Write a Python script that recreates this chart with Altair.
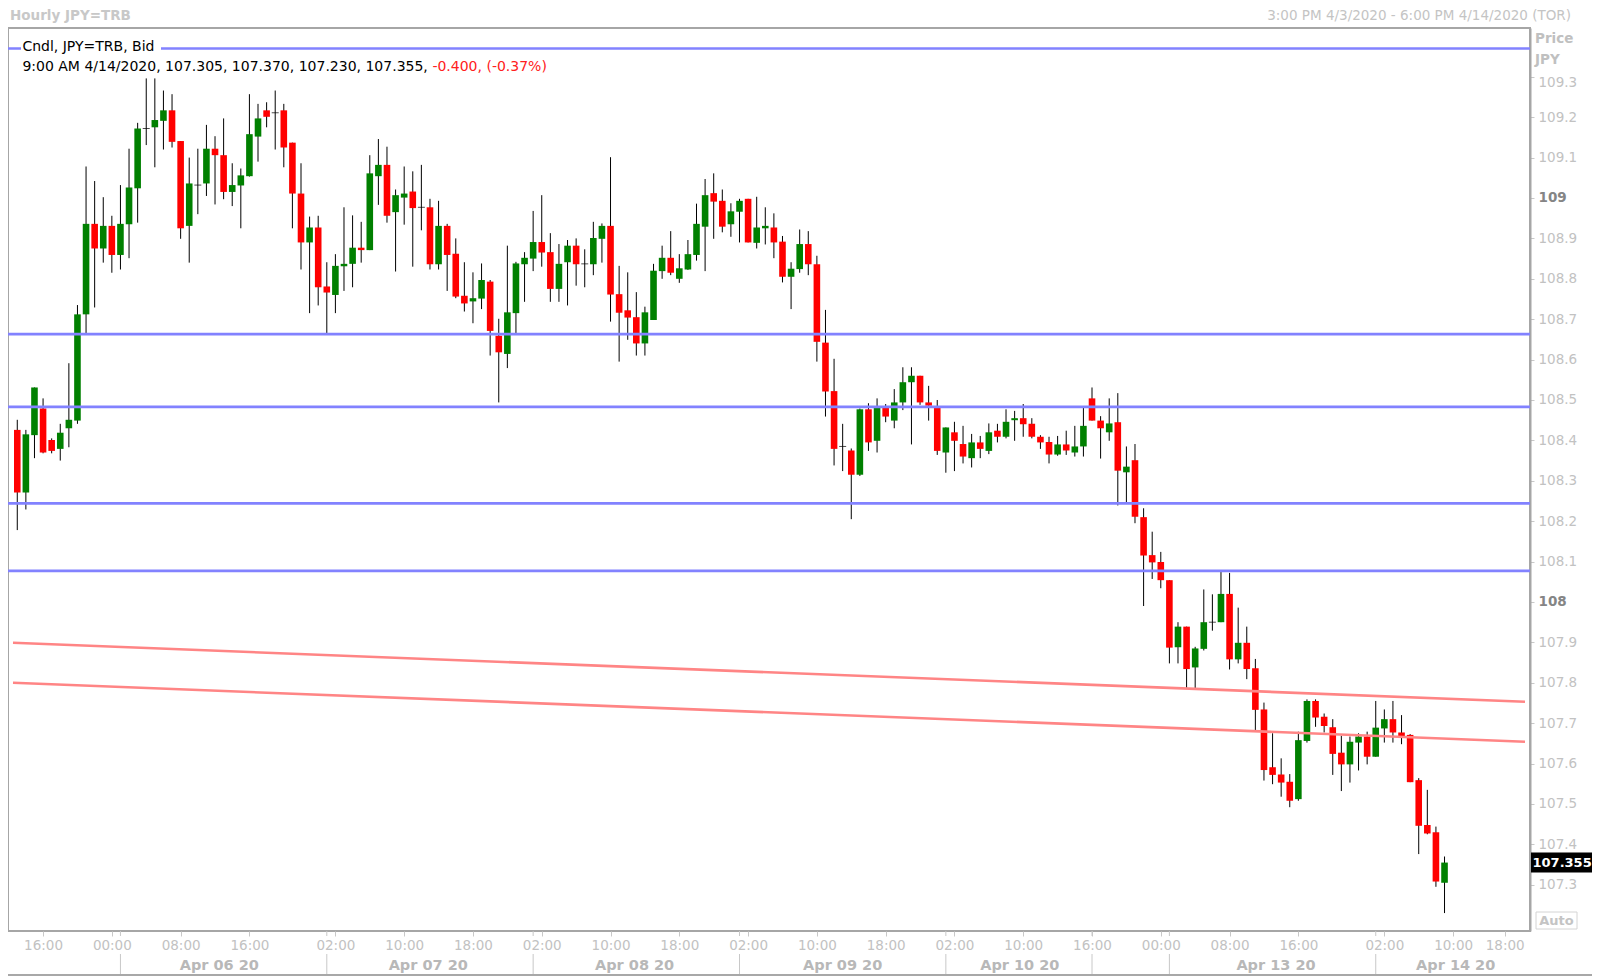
import altair as alt
import pandas as pd

# ---------------- data ----------------
opens = [108.426,108.271,108.413,108.479,108.401,108.379,108.430,108.449,108.712,108.936,
         108.875,108.931,108.859,108.935,109.024,109.172,109.175,109.191,109.217,109.141,
         108.931,109.032,109.036,109.122,109.106,109.015,109.031,109.054,109.152,109.217,
         109.211,109.217,109.137,109.011,108.890,108.927,108.781,108.760,108.831,108.837,
         108.877,108.871,109.054,109.082,108.965,109.001,109.016,108.977,108.977,108.836,
         108.931,108.862,108.758,108.744,108.751,108.793,108.659,108.614,108.715,108.836,
         108.850,108.891,108.866,108.775,108.841,108.882,108.837,108.836,108.899,108.931,
         108.762,108.722,108.705,108.640,108.698,108.819,108.852,108.800,108.823,108.859,
         108.929,109.012,108.993,108.935,108.966,108.998,108.889,108.925,108.927,108.892,
         108.805,108.824,108.886,108.836,108.642,108.522,108.385,108.375,108.315,108.477,
         108.399,108.482,108.449,108.494,108.544,108.560,108.494,108.484,108.370,108.420,
         108.391,108.356,108.395,108.374,108.424,108.409,108.450,108.455,108.441,108.409,
         108.396,108.365,108.390,108.370,108.385,108.504,108.449,108.420,108.445,108.321,
         108.351,108.210,108.116,108.099,108.054,107.888,107.939,107.838,107.884,107.950,
         107.950,108.020,107.858,107.899,107.836,107.734,107.591,107.573,107.555,107.512,
         107.656,107.755,107.716,107.690,107.627,107.598,107.652,107.667,107.617,107.687,
         107.710,107.677,107.671,107.559,107.448,107.430,107.305]
highs = [108.451,108.426,108.531,108.504,108.405,108.441,108.591,108.735,109.078,109.042,
         109.002,108.956,109.032,109.122,109.186,109.296,109.296,109.266,109.257,109.141,
         109.100,109.122,109.181,109.153,109.197,109.086,109.073,109.257,109.233,109.237,
         109.266,109.233,109.137,109.086,108.954,108.956,108.841,108.861,108.977,108.957,
         108.941,109.106,109.146,109.127,109.021,109.078,109.066,109.082,108.998,108.993,
         108.936,108.900,108.841,108.816,108.838,108.797,108.701,108.882,108.842,108.866,
         108.968,109.007,108.913,108.886,108.896,108.900,108.873,108.941,108.937,109.101,
         108.832,108.816,108.767,108.731,108.837,108.882,108.918,108.861,108.896,108.986,
         109.047,109.061,109.021,108.987,108.998,108.998,109.003,108.977,108.962,108.906,
         108.841,108.922,108.918,108.857,108.723,108.602,108.441,108.380,108.479,108.492,
         108.504,108.490,108.527,108.581,108.581,108.560,108.535,108.500,108.432,108.446,
         108.436,108.416,108.411,108.442,108.441,108.477,108.473,108.490,108.455,108.413,
         108.409,108.411,108.424,108.436,108.481,108.531,108.460,108.504,108.517,108.385,
         108.391,108.232,108.174,108.124,108.054,107.950,107.939,107.889,108.031,108.019,
         108.075,108.072,107.986,107.939,107.859,107.751,107.675,107.613,107.574,107.679,
         107.759,107.759,107.724,107.710,107.669,107.667,107.675,107.679,107.755,107.734,
         107.755,107.720,107.673,107.564,107.535,107.444,107.370]
lows = [108.178,108.229,108.356,108.368,108.368,108.350,108.383,108.441,108.665,108.729,
        108.840,108.815,108.823,108.851,108.939,109.131,109.076,109.120,109.125,108.899,
        108.840,108.960,109.005,108.984,108.997,108.980,108.925,109.053,109.090,109.175,
        109.120,109.076,108.925,108.823,108.715,108.734,108.663,108.715,108.770,108.779,
        108.840,108.871,108.983,108.939,108.818,108.934,108.830,108.920,108.823,108.823,
        108.770,108.752,108.719,108.690,108.725,108.610,108.494,108.579,108.665,108.743,
        108.819,108.830,108.743,108.743,108.734,108.783,108.779,108.809,108.840,108.694,
        108.595,108.649,108.610,108.610,108.698,108.800,108.809,108.790,108.822,108.845,
        108.819,108.899,108.915,108.904,108.890,108.890,108.875,108.885,108.851,108.791,
        108.725,108.815,108.809,108.595,108.459,108.338,108.324,108.205,108.312,108.374,
        108.370,108.445,108.430,108.475,108.390,108.488,108.449,108.364,108.320,108.324,
        108.343,108.333,108.356,108.366,108.395,108.405,108.399,108.409,108.405,108.379,
        108.343,108.362,108.364,108.360,108.360,108.449,108.355,108.399,108.239,108.246,
        108.195,107.990,108.057,108.034,107.848,107.848,107.786,107.786,107.880,107.929,
        107.950,107.833,107.848,107.809,107.683,107.558,107.549,107.518,107.492,107.508,
        107.652,107.691,107.677,107.572,107.532,107.553,107.583,107.598,107.617,107.652,
        107.652,107.648,107.554,107.376,107.425,107.295,107.230]
closes = [108.271,108.415,108.531,108.370,108.374,108.419,108.451,108.712,108.936,108.875,
          108.931,108.859,108.936,109.026,109.172,109.172,109.193,109.217,109.139,108.925,
          109.036,109.032,109.122,109.106,109.015,109.032,109.056,109.158,109.197,109.201,
          109.211,109.125,109.011,108.890,108.927,108.779,108.766,108.832,108.837,108.877,
          108.871,109.061,109.082,108.956,109.007,109.011,108.975,108.977,108.836,108.931,
          108.859,108.756,108.739,108.752,108.797,108.671,108.618,108.717,108.838,108.852,
          108.891,108.865,108.775,108.837,108.882,108.836,108.837,108.901,108.931,108.761,
          108.716,108.704,108.640,108.717,108.820,108.852,108.815,108.826,108.861,108.936,
          109.007,108.991,108.929,108.967,108.993,108.890,108.927,108.931,108.890,108.805,
          108.825,108.886,108.836,108.644,108.521,108.379,108.385,108.315,108.477,108.395,
          108.482,108.459,108.494,108.544,108.560,108.494,108.486,108.374,108.432,108.399,
          108.360,108.395,108.379,108.420,108.409,108.446,108.455,108.440,108.409,108.395,
          108.365,108.390,108.375,108.385,108.436,108.449,108.430,108.442,108.325,108.335,
          108.211,108.115,108.098,108.054,107.887,107.939,107.834,107.885,107.950,107.950,
          108.020,107.858,107.899,107.834,107.733,107.584,107.572,107.553,107.508,107.658,
          107.755,107.714,107.693,107.624,107.598,107.654,107.667,107.617,107.689,107.710,
          107.677,107.668,107.554,107.446,107.427,107.308,107.355]

tick_idx = [3, 11, 19, 27, 37, 45, 53, 61, 69, 77, 85, 93, 101, 109, 117, 125, 133, 141, 149, 159, 167, 173]
tick_lab = ['16:00', '00:00', '08:00', '16:00', '02:00', '10:00', '18:00', '02:00', '10:00', '18:00',
            '02:00', '10:00', '18:00', '02:00', '10:00', '16:00', '00:00', '08:00', '16:00', '02:00',
            '10:00', '18:00']
day_sep = [12, 36, 60, 84, 108, 125, 134, 158]
day_pos = [23.5, 47.8, 71.8, 96, 116.6, 146.4, 167.3]
day_lab = ['Apr 06 20', 'Apr 07 20', 'Apr 08 20', 'Apr 09 20', 'Apr 10 20', 'Apr 13 20', 'Apr 14 20']
y_ticks = [107.3, 107.4, 107.5, 107.6, 107.7, 107.8, 107.9, 108.0, 108.1, 108.2, 108.3,
           108.4, 108.5, 108.6, 108.7, 108.8, 108.9, 109.0, 109.1, 109.2, 109.3]
hlines = [109.370, 108.663, 108.483, 108.244, 108.077]
trend_x = [-0.497, 175.36]
trend_a = [107.899, 107.753]
trend_b = [107.800, 107.654]

title_left = "Hourly JPY=TRB"
title_right = "3:00 PM 4/3/2020 - 6:00 PM 4/14/2020 (TOR)"
legend1 = "Cndl, JPY=TRB, Bid"
legend2 = "9:00 AM 4/14/2020, 107.305, 107.370, 107.230, 107.355, "
legend2_red = "-0.400, (-0.37%)"

# ---------------- tables ----------------
n = len(closes)
df = pd.DataFrame({"i": list(range(n)), "open": opens, "high": highs, "low": lows, "close": closes})
df["dir"] = ["up" if c > o else "down" for o, c in zip(opens, closes)]
df["doji"] = [abs(c - o) < 0.002 for o, c in zip(opens, closes)]
df_body = df[~df["doji"]]
df_doji = df[df["doji"]]

df_trend = pd.DataFrame({
    "x": trend_x + trend_x,
    "v": trend_a + trend_b,
    "g": ["a", "a", "b", "b"],
})
df_h = pd.DataFrame({"v": hlines})
df_days = pd.DataFrame({"pos": day_pos, "lab": day_lab})
df_sep = pd.DataFrame({"s": day_sep})
df_last = pd.DataFrame({"p": [closes[-1]], "lab": [f"{closes[-1]:.3f}"]})
one = pd.DataFrame({"a": [0]})

FONT = "DejaVu Sans"
LIGHT = "#c2c2c2"

xscale = alt.Scale(domain=[-0.497, 175.36], nice=False, zero=False)
yscale = alt.Scale(domain=[107.1856, 109.4208], nice=False, zero=False)

idx_arr = "[" + ",".join(str(v) for v in tick_idx) + "]"
lab_arr = "[" + ",".join(f"'{v}'" for v in tick_lab) + "]"
x_label_expr = f"indexof({idx_arr}, datum.value) >= 0 ? {lab_arr}[indexof({idx_arr}, datum.value)] : ''"

xaxis = alt.Axis(values=tick_idx, labelExpr=x_label_expr, grid=False, domain=False,
                 tickColor="#c8c8c8", tickSize=5, labelColor=LIGHT, labelFontSize=13.5,
                 labelFont=FONT, labelPadding=2, labelFlush=False, labelOverlap=False, title=None)
yaxis = alt.Axis(orient="right", values=y_ticks, grid=False, domainColor="#a6a6a6", domainWidth=2,
                 tickColor="#c8c8c8", tickSize=4, labelPadding=4, labelFontSize=13.5, labelFont=FONT,
                 labelAlign="left", labelBaseline="middle", format="~g",
                 labelColor={"condition": {"test": "datum.value == 108 || datum.value == 109", "value": "#858585"}, "value": LIGHT},
                 labelFontWeight={"condition": {"test": "datum.value == 108 || datum.value == 109", "value": "bold"}, "value": "normal"},
                 labelOffset={"condition": {"test": "datum.value > 109.25", "value": 6}, "value": 0},
                 labelFlush=False, labelOverlap=False, title=None)

wicks = alt.Chart(df).mark_rule(color="black", strokeWidth=1).encode(
    x=alt.X("i:Q", scale=xscale, axis=xaxis),
    y=alt.Y("low:Q", scale=yscale, axis=yaxis),
    y2="high:Q",
)
bodies = alt.Chart(df_body).mark_bar(size=6.6).encode(
    x="i:Q",
    y="open:Q",
    y2="close:Q",
    color=alt.Color("dir:N", scale=alt.Scale(domain=["up", "down"], range=["#008000", "#ff0000"]), legend=None),
)
dojis = alt.Chart(df_doji).mark_tick(orient="horizontal", size=7, thickness=1, color="black").encode(
    x="i:Q", y="close:Q"
)
hl = alt.Chart(df_h).mark_rule(color="#8282ff", strokeWidth=2.6).encode(y="v:Q")
tr = alt.Chart(df_trend).mark_line(color="#ff8585", strokeWidth=2.6).encode(
    x="x:Q", y="v:Q", detail="g:N"
)

leg_bg = alt.Chart(one).mark_rect(color="white").encode(
    x=alt.value(13), x2=alt.value(153), y=alt.value(11), y2=alt.value(29))
leg1 = alt.Chart(one).mark_text(text=legend1, align="left", baseline="middle", fontSize=14,
                                font=FONT, color="black").encode(x=alt.value(14.4), y=alt.value(18.5))
leg2 = alt.Chart(one).mark_text(text=legend2, align="left", baseline="middle", fontSize=14,
                                font=FONT, color="black").encode(x=alt.value(14.4), y=alt.value(39.3))
leg3 = alt.Chart(one).mark_text(text=legend2_red, align="left", baseline="middle", fontSize=14,
                                font=FONT, color="#ff2020").encode(x=alt.value(424.4), y=alt.value(39.3))

t_left = alt.Chart(one).mark_text(text=title_left, align="left", baseline="middle", fontSize=13.5,
                                  fontWeight="bold", font=FONT, color="#c8c8c8").encode(x=alt.value(2), y=alt.value(-12))
t_right = alt.Chart(one).mark_text(text=title_right, align="right", baseline="middle", fontSize=13.5,
                                   font=FONT, color="#c4c4c4").encode(x=alt.value(1563), y=alt.value(-12))
price_t = alt.Chart(one).mark_text(text="Price", align="left", baseline="middle", fontSize=13.5,
                                   fontWeight="bold", font=FONT, color="#c0c0c0").encode(x=alt.value(1527), y=alt.value(10.5))
jpy_t = alt.Chart(one).mark_text(text="JPY", align="left", baseline="middle", fontSize=13.5,
                                 fontWeight="bold", font=FONT, color="#c0c0c0").encode(x=alt.value(1527), y=alt.value(31.5))

tag_rect = alt.Chart(df_last).mark_rect(color="black", yOffset=-10, y2Offset=10).encode(
    x=alt.value(1523), x2=alt.value(1584), y="p:Q", y2="p:Q")
tag_text = alt.Chart(df_last).mark_text(align="left", baseline="middle", fontSize=13, fontWeight="bold",
                                        font=FONT, color="white").encode(
    x=alt.value(1524.5), y="p:Q", text="lab:N")

auto_rect = alt.Chart(one).mark_rect(fill="white", stroke="#d4d4d4", strokeWidth=1).encode(
    x=alt.value(1528), x2=alt.value(1569), y=alt.value(884), y2=alt.value(901))
auto_text = alt.Chart(one).mark_text(text="Auto", align="center", baseline="middle", fontSize=13,
                                     fontWeight="bold", font=FONT, color="#c4c4c4").encode(
    x=alt.value(1548.5), y=alt.value(892.5))

days = alt.Chart(df_days).mark_text(align="center", baseline="alphabetic", fontSize=14.5, fontWeight="bold",
                                    font=FONT, color="#b8b8b8").encode(
    x="pos:Q", y=alt.value(941.5), text="lab:N")
sep_top = alt.Chart(df_sep).mark_rule(color="#c8c8c8", strokeWidth=1).encode(
    x="s:Q", y=alt.value(903), y2=alt.value(908))
sep_bot = alt.Chart(df_sep).mark_rule(color="#c8c8c8", strokeWidth=1).encode(
    x="s:Q", y=alt.value(926), y2=alt.value(946))

# outer frame (bottom edge of the window)
frame_b = alt.Chart(one).mark_rule(color="#a8a8a8", strokeWidth=2).encode(
    x=alt.value(0), x2=alt.value(1584), y=alt.value(947))

chart = alt.layer(
    wicks, bodies, dojis, hl, tr, leg_bg, leg1, leg2, leg3,
    t_left, t_right, price_t, jpy_t, tag_rect, tag_text, auto_rect, auto_text,
    days, sep_top, sep_bot, frame_b,
).properties(
    width=1522, height=903,
    padding={"left": 0, "top": 20, "right": 62, "bottom": 47},
    autosize=alt.AutoSizeParams(type="none"),
    background="white",
).configure(font=FONT).configure_view(stroke="#a6a6a6", strokeWidth=2)

chart.save("out.html", embed_options={"renderer": "svg", "actions": False})
